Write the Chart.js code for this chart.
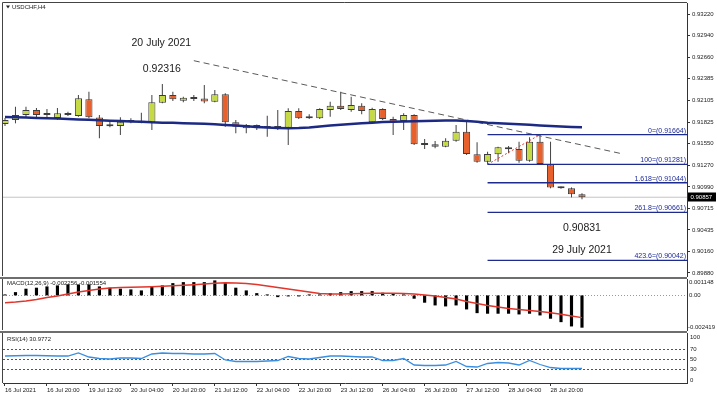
<!DOCTYPE html>
<html><head><meta charset="utf-8">
<script src="https://cdn.jsdelivr.net/npm/chart.js@4.4.1/dist/chart.umd.min.js"></script>
<style>
html,body{margin:0;padding:0;background:#fff;}
#wrap{position:relative;width:717px;height:399px;overflow:hidden;background:#fff;}
canvas{position:absolute;left:0;}
</style></head><body>
<div id="wrap">
<canvas id="cMain" width="717" height="277" style="top:0"></canvas>
<canvas id="cMacd" width="717" height="54" style="top:277px"></canvas>
<canvas id="cRsi" width="717" height="68" style="top:331px"></canvas>
</div>
<script>
// ---------- data ----------
const symbolTitle = "USDCHF,H4";
const tickLabels = ["16 Jul 2021","16 Jul 20:00","19 Jul 12:00","20 Jul 04:00","20 Jul 20:00","21 Jul 12:00","22 Jul 04:00","22 Jul 20:00","23 Jul 12:00","26 Jul 04:00","26 Jul 20:00","27 Jul 12:00","28 Jul 04:00","28 Jul 20:00"];
const tickIdx = [0,4,8,12,16,20,24,28,32,36,40,44,48,52];
const priceTicks = [0.93220,0.92940,0.92660,0.92385,0.92105,0.91825,0.91550,0.91270,0.90990,0.90715,0.90435,0.90160,0.89880];

const opens  = [0.91801,0.91853,0.91917,0.91982,0.91917,0.91878,0.91936,0.91904,0.92120,0.91885,
                0.91775,0.91775,0.91827,0.91844,0.91823,0.92076,0.92175,0.92102,0.92140,0.92130,
                0.92089,0.92184,0.91823,0.91746,0.91788,0.91746,0.91775,0.91753,0.91969,0.91878,
                0.91875,0.91982,0.92037,0.91982,0.92037,0.91823,0.91995,0.91866,0.91840,0.91917,
                0.91530,0.91539,0.91508,0.91586,0.91702,0.91410,0.91315,0.91410,0.91495,0.91479,
                0.91328,0.91573,0.91280,0.90984,0.90972,0.90894];
const highs  = [0.91878,0.92024,0.92024,0.92007,0.91995,0.92007,0.91960,0.92175,0.92218,0.91917,
                0.91831,0.91887,0.91875,0.91947,0.92175,0.92316,0.92218,0.92153,0.92175,0.92304,
                0.92240,0.92197,0.91853,0.91801,0.91795,0.91908,0.91982,0.92004,0.92004,0.91926,
                0.92004,0.92089,0.92218,0.92153,0.92068,0.92011,0.92004,0.91895,0.91939,0.91926,
                0.91608,0.91582,0.91617,0.91788,0.91831,0.91565,0.91444,0.91508,0.91517,0.91573,
                0.91629,0.91664,0.91573,0.90995,0.90984,0.90907];
const lows   = [0.91775,0.91810,0.91891,0.91891,0.91891,0.91853,0.91904,0.91895,0.91875,0.91617,
                0.91758,0.91659,0.91810,0.91810,0.91724,0.92068,0.92098,0.92081,0.92098,0.92068,
                0.92081,0.91766,0.91681,0.91681,0.91724,0.91637,0.91724,0.91530,0.91866,0.91866,
                0.91866,0.91895,0.91982,0.91960,0.91926,0.91810,0.91853,0.91659,0.91724,0.91530,
                0.91479,0.91488,0.91500,0.91573,0.91401,0.91302,0.91281,0.91315,0.91423,0.91302,
                0.91315,0.91281,0.90972,0.90966,0.90855,0.90831];
const closes = [0.91853,0.91917,0.91982,0.91917,0.91936,0.91939,0.91917,0.92133,0.91887,0.91775,
                0.91772,0.91831,0.91833,0.91818,0.92081,0.92175,0.92120,0.92140,0.92124,0.92091,
                0.92184,0.91823,0.91766,0.91788,0.91746,0.91775,0.91746,0.91969,0.91875,0.91875,
                0.91995,0.92037,0.91995,0.92046,0.91969,0.91995,0.91866,0.91831,0.91917,0.91539,
                0.91549,0.91508,0.91586,0.91702,0.91414,0.91315,0.91414,0.91500,0.91475,0.91328,
                0.91573,0.91285,0.90984,0.90972,0.90894,0.90857];
const maVals = [0.91892,0.91888,0.91884,0.91880,0.91876,0.91872,0.91866,0.91861,0.91856,0.91849,
                0.91844,0.91840,0.91835,0.91830,0.91823,0.91819,0.91816,0.91812,0.91808,0.91804,
                0.91797,0.91790,0.91781,0.91772,0.91763,0.91755,0.91750,0.91747,0.91750,0.91756,
                0.91769,0.91782,0.91792,0.91801,0.91810,0.91819,0.91827,0.91831,0.91835,0.91837,
                0.91840,0.91843,0.91845,0.91845,0.91840,0.91830,0.91819,0.91812,0.91804,0.91797,
                0.91791,0.91783,0.91776,0.91769,0.91763,0.91758];
const lastPrice = 0.90857;
const trendX = [18, 58.9];
const trendY = [0.92618, 0.91415];
const fibNames  = ["0","100","1.618","261.8","423.6"];
const fibLevels = [0.91664,0.91281,0.91044,0.90661,0.90042];
const fibStart = 46;
const fibDiagX = [46, 51];
const fibDiagY = [0.91281, 0.91664];

const macdTitle = "MACD(12,26,9) -0.002256 -0.001554";
const macdTicks = [0.001148, 0, -0.002419];
const macdTickText = ["0.001148","0.00","-0.002419"];
const macdHist = [0.00007,0.00023,0.00047,0.00054,0.00063,0.00070,0.00077,0.00077,0.00077,0.00063,
                  0.00054,0.00047,0.00042,0.00035,0.00063,0.00070,0.00086,0.00093,0.00093,0.00093,
                  0.00105,0.00086,0.00054,0.00035,0.00016,0.00002,-0.00012,-0.00002,-0.00002,0.00001,
                  0.00002,0.00016,0.00023,0.00030,0.00030,0.00030,0.00019,0.00012,0.00007,-0.00023,
                  -0.00051,-0.00070,-0.00077,-0.00070,-0.00098,-0.00124,-0.00128,-0.00128,-0.00128,-0.00133,
                  -0.00128,-0.00140,-0.00163,-0.00187,-0.00217,-0.002256];
const macdSignal = [-0.00051,-0.00046,-0.00039,-0.00029,-0.00015,-0.00004,0.00010,0.00024,0.00034,0.00045,
                    0.00052,0.00055,0.00057,0.00059,0.00061,0.00064,0.00067,0.00071,0.00075,0.00080,
                    0.00085,0.00088,0.00087,0.00083,0.00076,0.00066,0.00055,0.00045,0.00034,0.00024,
                    0.00013,0.00010,0.00010,0.00011,0.00013,0.00015,0.00015,0.00015,0.00013,0.00010,
                    0.00003,-0.00004,-0.00015,-0.00025,-0.00043,-0.00057,-0.00071,-0.00081,-0.00092,-0.00099,
                    -0.00106,-0.00113,-0.00122,-0.00132,-0.00144,-0.001554];

const rsiTitle = "RSI(14) 30.9772";
const rsiTicks = [100,70,50,30,0];
const rsiLevels = [70,50,30];
const rsiVals = [56,56.5,57,57,56.5,56,56,62,54,51,
                 50,52,52,51,60,62,61,61,60,60,
                 61,48,45,45,45,46,47,55,51,50,
                 53,56,56,55,54,54,47,47,51,38,
                 37,37,38,45,35,34,41,43,42,38,
                 47,39,33,31,31,30.9772];

const notes = [
  {text:"20 July 2021", x:14.9, y:0.92846},
  {text:"0.92316", x:14.95, y:0.92511},
  {text:"0.90831", x:55, y:0.90456},
  {text:"29 July 2021", x:55, y:0.90176}
];

// ---------- style / layout ----------
const FONT = "'Liberation Sans', Arial, sans-serif";
const X_MIN = -0.19, X_MAX = 65.01;
const PRICE_MIN = 0.898411, PRICE_MAX = 0.933619;
const UP = '#c6da45', DOWN = '#e8612d';
const idx = closes.map((_, i) => i);

function xScaleCfg(show) {
  return {
    type:'linear', min:X_MIN, max:X_MAX, offset:false, display:show, position:'bottom',
    afterBuildTicks: s => { s.ticks = tickIdx.map(v => ({value:v})); },
    afterFit: s => { if (show) s.height = 16; s.paddingLeft = 0; s.paddingRight = 0; },
    ticks:{display:show, autoSkip:false, maxRotation:0, minRotation:0, align:'start', padding:1,
           font:{family:FONT, size:6}, color:'#222', callback:(v,i) => tickLabels[i]},
    grid:{drawOnChartArea:false, drawTicks:true, tickLength:3, color:'#333'},
    border:{display:true, color:'#333'}
  };
}
function hiddenYCfg(min, max) {
  return {position:'right', min, max, ticks:{display:false}, grid:{display:false},
          border:{display:true, color:'#333'},
          afterFit: s => { s.width = 30; s.paddingTop = 0; s.paddingBottom = 0; }};
}
const baseOpts = {responsive:false, animation:false, events:[],
  plugins:{legend:{display:false}, tooltip:{enabled:false}}};

function panelFrame(ctx, a) {
  ctx.fillStyle = '#6e6e6e';
  ctx.fillRect(0, a.top - 2, a.right, 2);
  ctx.strokeStyle = '#444'; ctx.lineWidth = 1;
  ctx.beginPath(); ctx.moveTo(a.left - 0.5, a.top); ctx.lineTo(a.left - 0.5, a.bottom); ctx.stroke();
}

// ---------- main chart ----------
const mainPlugin = {
  id:'mainDeco',
  afterDraw(chart) {
    const {ctx, chartArea:a, scales:{x, y}} = chart;
    ctx.save();
    ctx.strokeStyle = '#444'; ctx.lineWidth = 1;
    ctx.beginPath();
    ctx.moveTo(a.left - 0.5, a.bottom); ctx.lineTo(a.left - 0.5, a.top - 0.5); ctx.lineTo(a.right, a.top - 0.5);
    ctx.stroke();
    // title
    ctx.fillStyle = '#222';
    ctx.beginPath(); ctx.moveTo(6, 5.5); ctx.lineTo(10, 5.5); ctx.lineTo(8, 8.5); ctx.closePath(); ctx.fill();
    ctx.font = '6px ' + FONT; ctx.textBaseline = 'middle'; ctx.textAlign = 'left';
    ctx.fillText(symbolTitle, 12, 7.5);
    // fib labels
    ctx.font = '7px ' + FONT; ctx.fillStyle = '#1b2a9a'; ctx.textAlign = 'right'; ctx.textBaseline = 'bottom';
    fibLevels.forEach((lv, k) => ctx.fillText(fibNames[k] + '=(' + lv.toFixed(5) + ')', a.right - 1, y.getPixelForValue(lv) - 0.5));
    // annotations
    ctx.font = '10.5px ' + FONT; ctx.fillStyle = '#1a1a1a'; ctx.textAlign = 'center'; ctx.textBaseline = 'middle';
    notes.forEach(n => ctx.fillText(n.text, x.getPixelForValue(n.x), y.getPixelForValue(n.y)));
    // last price box
    const py = y.getPixelForValue(lastPrice);
    ctx.fillStyle = '#000'; ctx.fillRect(a.right + 1, Math.round(py) - 4.5, 28, 9);
    ctx.fillStyle = '#fff'; ctx.font = '6px ' + FONT; ctx.textAlign = 'left'; ctx.textBaseline = 'middle';
    ctx.fillText(lastPrice.toFixed(5), a.right + 3.5, py);
    ctx.restore();
  }
};

new Chart(document.getElementById('cMain'), {
  type:'bar',
  data:{datasets:[
    {type:'line', data:[{x:X_MIN, y:lastPrice},{x:X_MAX, y:lastPrice}], borderColor:'#c4c4c4', borderWidth:1, pointRadius:0, order:6},
    {type:'bar', data:idx.map(i => ({x:i, y:[lows[i], highs[i]]})), backgroundColor:'#4a4a4a', borderWidth:0,
     grouped:false, categoryPercentage:1, barPercentage:0.1, order:5},
    {type:'bar', data:idx.map(i => ({x:i, y:[opens[i], closes[i]]})),
     backgroundColor:idx.map(i => closes[i] >= opens[i] ? UP : DOWN), borderColor:'#3c3c3c', borderWidth:1,
     borderSkipped:false, grouped:false, categoryPercentage:1, barPercentage:0.68, minBarLength:2, order:4},
    {type:'line', data:trendX.map((v, k) => ({x:v, y:trendY[k]})), borderColor:'#5a5a5a', borderWidth:1,
     borderDash:[6,4], pointRadius:0, order:3},
    ...fibLevels.map(lv => ({type:'line', data:[{x:fibStart, y:lv},{x:X_MAX, y:lv}], borderColor:'#1d2b8f',
     borderWidth:1.3, pointRadius:0, order:2})),
    {type:'line', data:fibDiagX.map((v, k) => ({x:v, y:fibDiagY[k]})), borderColor:'#e03a30', borderWidth:1,
     borderDash:[2,2], pointRadius:0, order:2},
    {type:'line', data:idx.map(i => ({x:i, y:maVals[i]})), borderColor:'#1d2a84', borderWidth:2.5, pointRadius:0, order:0}
  ]},
  options:Object.assign({}, baseOpts, {
    layout:{padding:{left:3, top:3, right:0, bottom:1}},
    scales:{
      x:xScaleCfg(false),
      y:{position:'right', min:PRICE_MIN, max:PRICE_MAX,
         afterBuildTicks: s => { s.ticks = priceTicks.map(v => ({value:v})); },
         afterFit: s => { s.width = 30; s.paddingTop = 0; s.paddingBottom = 0; },
         ticks:{autoSkip:false, padding:2, font:{family:FONT, size:6}, color:'#222', callback: v => v.toFixed(5)},
         grid:{drawOnChartArea:false, tickLength:3, color:'#333'},
         border:{display:true, color:'#333'}}
    }
  }),
  plugins:[mainPlugin]
});

// ---------- MACD ----------
const macdPlugin = {
  id:'macdDeco',
  beforeDatasetsDraw(chart) {
    const {ctx, chartArea:a, scales:{y}} = chart;
    const zy = Math.round(y.getPixelForValue(0)) + 0.5;
    ctx.save(); ctx.strokeStyle = '#9a9a9a'; ctx.lineWidth = 1; ctx.setLineDash([1,2]);
    ctx.beginPath(); ctx.moveTo(a.left, zy); ctx.lineTo(a.right, zy); ctx.stroke(); ctx.restore();
  },
  afterDraw(chart) {
    const {ctx, chartArea:a, scales:{y}} = chart;
    ctx.save();
    panelFrame(ctx, a);
    ctx.fillStyle = '#222'; ctx.font = '6px ' + FONT; ctx.textAlign = 'left'; ctx.textBaseline = 'middle';
    ctx.fillText(macdTitle, 7, a.top + 4.5);
    macdTicks.forEach((v, k) => {
      const py = Math.min(Math.max(y.getPixelForValue(v), a.top + 3), a.bottom - 3);
      ctx.fillText(macdTickText[k], a.right + (v < 0 ? 1 : 2), py);
    });
    ctx.restore();
  }
};
new Chart(document.getElementById('cMacd'), {
  type:'bar',
  data:{datasets:[
    {type:'line', data:idx.map(i => ({x:i, y:macdSignal[i]})), borderColor:'#e0362c', borderWidth:1.5, pointRadius:0, order:0},
    {type:'bar', data:idx.map(i => ({x:i, y:macdHist[i]})), backgroundColor:'#000', borderWidth:0,
     categoryPercentage:1, barPercentage:0.3, minBarLength:1, order:1}
  ]},
  options:Object.assign({}, baseOpts, {
    layout:{padding:{left:3, top:2, right:0, bottom:1}},
    scales:{x:xScaleCfg(false), y:hiddenYCfg(macdTicks[2], macdTicks[0])}
  }),
  plugins:[macdPlugin]
});

// ---------- RSI ----------
const rsiPlugin = {
  id:'rsiDeco',
  beforeDatasetsDraw(chart) {
    const {ctx, chartArea:a, scales:{y}} = chart;
    ctx.save(); ctx.strokeStyle = '#555'; ctx.lineWidth = 1; ctx.setLineDash([2,2]);
    rsiLevels.forEach(v => {
      const py = Math.round(y.getPixelForValue(v)) + 0.5;
      ctx.beginPath(); ctx.moveTo(a.left, py); ctx.lineTo(a.right, py); ctx.stroke();
    });
    ctx.restore();
  },
  afterDraw(chart) {
    const {ctx, chartArea:a, scales:{y}} = chart;
    ctx.save();
    panelFrame(ctx, a);
    ctx.fillStyle = '#222'; ctx.font = '6px ' + FONT; ctx.textAlign = 'left'; ctx.textBaseline = 'middle';
    ctx.fillText(rsiTitle, 7, a.top + 6);
    rsiTicks.forEach(v => {
      const py = Math.min(Math.max(y.getPixelForValue(v), a.top + 4), a.bottom - 3);
      ctx.fillText(String(v), a.right + 3, py);
    });
    ctx.restore();
  }
};
new Chart(document.getElementById('cRsi'), {
  type:'line',
  data:{datasets:[
    {data:idx.map(i => ({x:i, y:rsiVals[i]})), borderColor:'#3b8fe0', borderWidth:1.3, pointRadius:0, fill:false}
  ]},
  options:Object.assign({}, baseOpts, {
    layout:{padding:{left:3, top:2, right:0, bottom:0}},
    scales:{x:xScaleCfg(true), y:hiddenYCfg(2, 102)}
  }),
  plugins:[rsiPlugin]
});
</script>
</body></html>
